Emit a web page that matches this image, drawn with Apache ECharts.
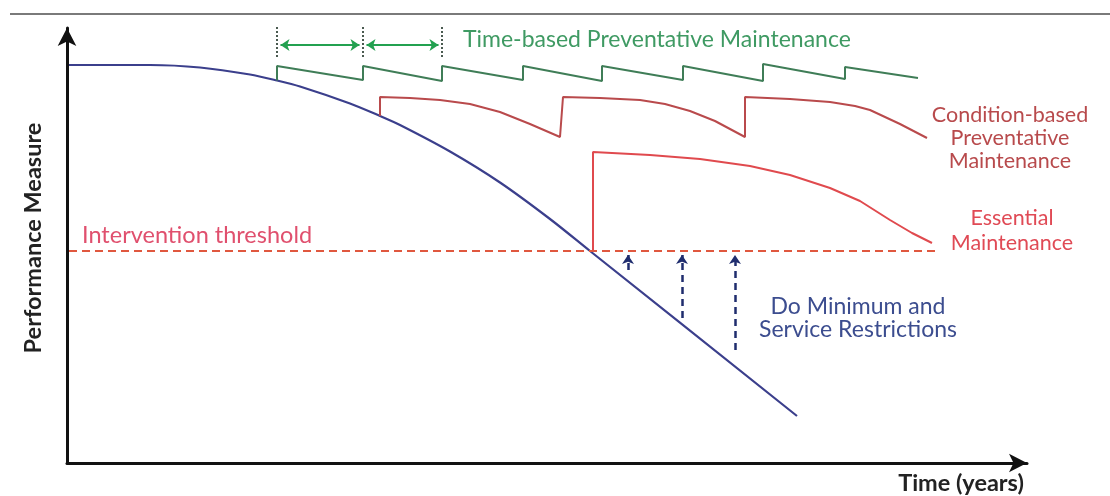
<!DOCTYPE html>
<html><head><meta charset="utf-8">
<script src="https://cdn.jsdelivr.net/npm/echarts@6/dist/echarts.min.js"></script>
<style>html,body{margin:0;padding:0;background:#fff}#c{width:1110px;height:496px}</style>
</head><body><div id="c"></div>
<script>
// Units: x = time (arbitrary units), y = performance measure (arbitrary units)
const degradation = [[0.2,79.6],[8.3,79.6],[13.3,79.1],[18.3,77.7],[21,76.5],[23.3,75.3],[28.3,71.9],[31.3,69.4],[33.3,67.6],[38.3,62.3],[43.3,56.1],[48.3,48.8],[52.3,42.4],[73,9.4]];
const timeBased = [[21,76.5],[21,79.4],[29.6,76.6],[29.6,79.4],[37.5,76.4],[37.5,79.4],[45.6,76.6],[45.6,79.4],[53.5,76.4],[53.5,79.4],[61.6,76.6],[61.6,79.4],[69.6,76.4],[69.6,79.8],[77.8,76.8],[77.8,79.2],[85.1,77]];
const conditionBased = [[31.3,69.4],[31.3,73.2],[34.3,73],[37.3,72.6],[40.3,71.8],[43.3,70.2],[46.3,67.8],[49.3,65.2],
  [49.6,73.2],[53.3,73],[57.3,72.6],[59.8,71.8],[62.3,70.4],[64.8,68.4],[67.8,65.2],
  [67.8,73.2],[72.3,72.8],[76.3,72.2],[78.8,71.4],[80.3,70.6],[83.3,67.8],[86,65]];
const essential = [[52.6,42.4],[52.6,62.2],[58.3,61.6],[63.3,60.8],[68.3,59.4],[72.3,57.6],[76.3,55],[79.3,52.4],[82.3,48.6],[84.5,46],[86.5,44]];
const threshold = 42.4;
const thresholdSpan = [0.2, 87];
const doMinimumArrows = [[56.1,38.6,41.6],[61.5,29,41.6],[66.8,22.6,41.6]]; // x, from, to
const intervalMarks = [21, 29.6, 37.5];
const intervalMarkSpan = [81.2, 87.4];
const intervalArrowY = 83.6;

const chart = echarts.init(document.getElementById('c'), null, {renderer:'canvas'});
const font = 'Lato, "Open Sans", sans-serif';
function axis(max){
  return {type:'value', min:0, max:max, axisLine:{show:true, lineStyle:{color:'#111', width:3}, symbol:['none','arrow'], symbolSize:[14,18]},
    axisTick:{show:false}, axisLabel:{show:false}, splitLine:{show:false}};
}
const intervalArrows = [];
for (let i=0;i<intervalMarks.length-1;i++){
  intervalArrows.push({coords:[[intervalMarks[i]+0.35,intervalArrowY],[intervalMarks[i+1]-0.35,intervalArrowY]]});
}
chart.setOption({
  animation:false,
  grid:{left:67, right:83, top:28, bottom:33},
  xAxis: axis(96),
  yAxis: axis(87),
  series:[
    {type:'line', data:degradation, smooth:0.3, showSymbol:false, clip:false, lineStyle:{color:'#3b3f8c', width:2.2}},
    {type:'line', data:timeBased, showSymbol:false, clip:false, lineStyle:{color:'#3f7d57', width:2}},
    {type:'line', data:conditionBased, showSymbol:false, clip:false, lineStyle:{color:'#b94a4c', width:2}},
    {type:'line', data:essential, showSymbol:false, clip:false, lineStyle:{color:'#e04a4e', width:2}},
    {type:'line', data:[[thresholdSpan[0],threshold],[thresholdSpan[1],threshold]], showSymbol:false, clip:false,
      lineStyle:{color:'#e0583f', width:2.2, type:[8,5]}},
    {type:'lines', coordinateSystem:'cartesian2d', clip:false,
      data: doMinimumArrows.map(a=>({coords:[[a[0],a[1]],[a[0],a[2]]]})),
      lineStyle:{color:'#1f2d6e', width:2.5, type:[7,5], opacity:1}, symbol:['none','arrow'], symbolSize:9},
    {type:'lines', coordinateSystem:'cartesian2d', clip:false,
      data: intervalMarks.map(x=>({coords:[[x,intervalMarkSpan[0]],[x,intervalMarkSpan[1]]]})),
      lineStyle:{color:'#4a5a50', width:2, type:[2,2], opacity:1}, symbol:['none','none']},
    {type:'lines', coordinateSystem:'cartesian2d', clip:false, data:intervalArrows,
      lineStyle:{color:'#23a150', width:2.2, opacity:1}, symbol:['arrow','arrow'], symbolSize:9}
  ],
  graphic:[
    {type:'line', shape:{x1:10,y1:14,x2:1110,y2:14}, style:{stroke:'#7a7a7a', lineWidth:2}},
    {type:'text', x:463, y:40, style:{text:'Time-based Preventative Maintenance', fill:'#3f9a63', font:'23px '+font, textVerticalAlign:'middle'}},
    {type:'text', x:1010, y:138, style:{text:'Condition-based\nPreventative\nMaintenance', fill:'#b84a4c', font:'21.5px '+font, textAlign:'center', textVerticalAlign:'middle', lineHeight:23}},
    {type:'text', x:1012, y:231, style:{text:'Essential\nMaintenance', fill:'#e04a55', font:'21.5px '+font, textAlign:'center', textVerticalAlign:'middle', lineHeight:25}},
    {type:'text', x:82, y:235, style:{text:'Intervention threshold', fill:'#e0506e', font:'23.5px '+font, textVerticalAlign:'middle'}},
    {type:'text', x:858, y:318, style:{text:'Do Minimum and\nService Restrictions', fill:'#3c4d8f', font:'23px '+font, textAlign:'center', textVerticalAlign:'middle', lineHeight:23}},
    {type:'text', x:961, y:483, style:{text:'Time (years)', fill:'#222', font:'bold 23.5px '+font, textAlign:'center', textVerticalAlign:'middle'}},
    {type:'text', x:33, y:238, rotation:Math.PI/2, style:{text:'Performance Measure', fill:'#222', font:'bold 23.5px '+font, textAlign:'center', textVerticalAlign:'middle'}}
  ]
});
</script>
</body></html>
